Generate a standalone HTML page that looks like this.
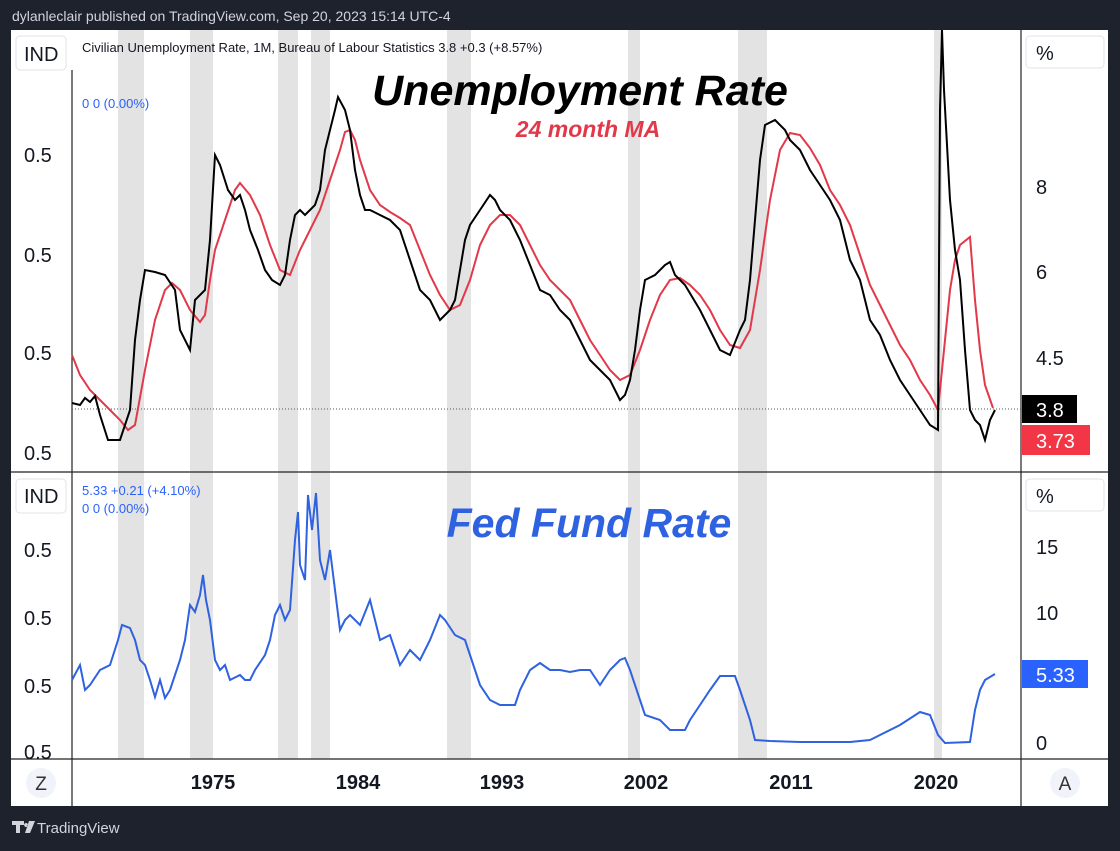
<!DOCTYPE html>
<html><head><meta charset="utf-8"><style>
body{margin:0;background:#1e222d;width:1120px;height:846px;overflow:hidden;font-family:"Liberation Sans",sans-serif}
</style></head><body>
<svg width="1120" height="846" xmlns="http://www.w3.org/2000/svg" font-family="Liberation Sans, sans-serif">
<rect width="1120" height="846" fill="#1e222d"/>
<text x="12" y="21" fill="#d1d4dc" font-size="14">dylanleclair published on TradingView.com, Sep 20, 2023 15:14 UTC-4</text>
<rect x="11" y="30" width="1097" height="776" fill="#fff"/>
<g fill="#e3e3e3">
<rect x="118" y="30" width="26" height="729"/><rect x="190" y="30" width="23" height="729"/>
<rect x="278" y="30" width="20" height="729"/><rect x="311" y="30" width="19" height="729"/>
<rect x="447" y="30" width="24" height="729"/><rect x="628" y="30" width="12" height="729"/>
<rect x="738" y="30" width="29" height="729"/><rect x="934" y="30" width="8" height="729"/>
</g>
<g stroke="#222" stroke-width="1.2">
<line x1="72" y1="70" x2="72" y2="806"/><line x1="1021" y1="30" x2="1021" y2="806"/>
<line x1="11" y1="472" x2="1108" y2="472"/><line x1="11" y1="759" x2="1108" y2="759"/>
</g>
<line x1="72" y1="409" x2="1021" y2="409" stroke="#555" stroke-width="1" stroke-dasharray="1,2"/>
<rect x="16" y="36" width="50" height="34" rx="4" fill="#fff" stroke="#e0e3eb"/>
<text x="24" y="61" font-size="20" fill="#131722">IND</text>
<rect x="16" y="479" width="50" height="34" rx="4" fill="#fff" stroke="#e0e3eb"/>
<text x="24" y="503" font-size="20" fill="#131722">IND</text>
<text x="82" y="52" font-size="13" fill="#131722">Civilian Unemployment Rate, 1M, Bureau of Labour Statistics  3.8  +0.3 (+8.57%)</text>
<text x="82" y="108" font-size="13" fill="#2962ff">0  0 (0.00%)</text>
<text x="82" y="495" font-size="13" fill="#2962ff">5.33  +0.21 (+4.10%)</text>
<text x="82" y="513" font-size="13" fill="#2962ff">0  0 (0.00%)</text>
<g font-size="20" fill="#131722">
<text x="24" y="162">0.5</text><text x="24" y="262">0.5</text><text x="24" y="360">0.5</text><text x="24" y="460">0.5</text>
<text x="24" y="557">0.5</text><text x="24" y="625">0.5</text><text x="24" y="693">0.5</text><text x="24" y="759">0.5</text>
<text x="1036" y="194">8</text><text x="1036" y="279">6</text><text x="1036" y="365">4.5</text>
<text x="1036" y="554">15</text><text x="1036" y="620">10</text><text x="1036" y="750">0</text>
</g>
<rect x="1026" y="36" width="78" height="32" rx="4" fill="#fff" stroke="#e0e3eb"/>
<text x="1036" y="60" font-size="20" fill="#131722">%</text>
<rect x="1026" y="479" width="78" height="32" rx="4" fill="#fff" stroke="#e0e3eb"/>
<text x="1036" y="503" font-size="20" fill="#131722">%</text>
<rect x="1022" y="395" width="55" height="28" fill="#000"/>
<text x="1036" y="417" font-size="20" fill="#fff">3.8</text>
<rect x="1022" y="425" width="68" height="30" fill="#f23645"/>
<text x="1036" y="448" font-size="20" fill="#fff">3.73</text>
<rect x="1022" y="660" width="66" height="28" fill="#2962ff"/>
<text x="1036" y="682" font-size="20" fill="#fff">5.33</text>
<g font-size="20" font-weight="bold" fill="#131722" text-anchor="middle">
<text x="213" y="789">1975</text><text x="358" y="789">1984</text><text x="502" y="789">1993</text>
<text x="646" y="789">2002</text><text x="791" y="789">2011</text><text x="936" y="789">2020</text>
</g>
<circle cx="41" cy="783" r="15" fill="#f0f3fa"/><text x="41" y="790" font-size="19" fill="#333" text-anchor="middle">Z</text>
<circle cx="1065" cy="783" r="15" fill="#f0f3fa"/><text x="1065" y="790" font-size="19" fill="#333" text-anchor="middle">A</text>
<text x="580" y="105" font-size="43" font-weight="bold" font-style="italic" fill="#000" text-anchor="middle">Unemployment Rate</text>
<text x="588" y="137" font-size="23" font-weight="bold" font-style="italic" fill="#e2394a" text-anchor="middle">24 month MA</text>
<text x="589" y="537" font-size="41" font-weight="bold" font-style="italic" fill="#2f62e0" text-anchor="middle">Fed Fund Rate</text>
<polyline fill="none" stroke="#e2394a" stroke-width="2" points="72,355 80,375 90,390 100,400 110,410 120,420 128,430 135,425 145,370 155,320 165,290 172,283 180,290 190,310 200,322 205,315 210,280 215,250 225,220 235,190 240,183 250,195 260,215 270,245 280,270 290,275 300,250 310,230 320,210 330,180 340,150 345,132 350,130 355,140 360,160 370,190 380,205 390,212 400,218 410,225 420,250 430,275 440,295 450,310 460,305 470,280 480,245 490,225 500,215 510,215 520,225 530,245 540,265 550,280 560,290 570,300 580,320 590,340 600,355 610,370 620,380 630,375 640,350 650,320 660,295 670,280 680,278 690,285 700,295 710,310 720,330 730,345 740,348 750,330 760,270 770,200 780,150 790,133 800,135 810,148 820,165 830,190 840,205 850,225 860,255 870,285 880,305 890,325 900,345 910,360 920,380 930,395 938,410 945,340 950,290 955,260 960,245 970,237 975,300 980,350 985,385 993,408"/>
<polyline fill="none" stroke="#000" stroke-width="2" points="72,403 80,405 85,398 90,402 95,396 100,415 108,440 120,440 125,425 130,410 135,340 140,300 145,270 155,272 165,275 175,290 180,330 190,350 195,300 205,290 210,240 215,155 220,165 228,190 235,200 240,195 245,210 250,230 258,250 265,270 272,280 280,285 285,275 290,240 295,215 300,210 305,215 310,210 315,205 320,190 325,150 330,130 335,110 338,97 345,110 350,130 355,170 360,195 365,210 370,210 380,215 390,220 400,230 410,260 420,290 430,300 440,320 450,310 455,300 460,270 465,240 470,225 480,210 490,195 495,200 500,210 510,220 520,240 530,265 540,290 550,295 560,310 570,320 580,340 590,360 600,370 610,380 620,400 625,395 630,380 635,350 640,310 645,280 655,275 665,265 670,262 675,275 685,285 700,310 710,330 720,350 730,355 740,330 745,320 750,280 755,220 760,160 765,125 775,120 785,130 790,140 800,150 810,170 820,185 830,200 840,220 850,260 860,280 870,320 880,335 890,360 900,380 910,395 920,410 930,425 938,430 940,110 942,30 944,90 950,200 955,250 960,280 965,350 970,410 975,420 980,425 985,440 990,420 995,410"/>
<polyline fill="none" stroke="#2f62e0" stroke-width="2" points="72,680 80,665 85,690 90,685 100,670 110,665 118,640 122,625 130,628 135,640 140,660 145,665 150,680 155,697 160,680 165,698 170,690 175,675 180,660 185,640 190,605 195,612 200,595 203,575 206,600 210,620 215,660 220,670 225,665 230,680 240,675 245,680 250,680 255,670 265,655 270,640 275,615 280,605 285,620 290,610 295,540 298,512 300,565 305,580 308,495 312,530 316,493 320,560 325,580 330,550 335,590 340,630 345,620 350,615 360,625 370,600 375,620 380,640 390,635 395,650 400,665 410,650 420,660 430,640 440,615 445,620 455,635 465,640 470,655 480,685 490,700 500,705 515,705 520,690 530,670 540,663 550,670 560,670 570,672 580,670 590,670 600,685 610,670 620,660 625,658 630,670 640,700 645,715 660,720 670,730 685,730 690,720 700,705 710,690 720,676 735,676 740,690 750,720 755,740 770,741 800,742 850,742 870,740 880,735 900,725 920,712 930,715 938,735 945,743 970,742 975,710 980,690 985,680 995,674"/>
<path d="M12,821 h12 v4 h-4 v8 h-4 v-8 h-4z M26,823 a2,2 0 1,0 0.1,0z M29,821 h6 l-5,12 h-5z" fill="#d1d4dc"/>
<text x="37" y="833" font-size="15" fill="#d1d4dc">TradingView</text>
</svg>
</body></html>
